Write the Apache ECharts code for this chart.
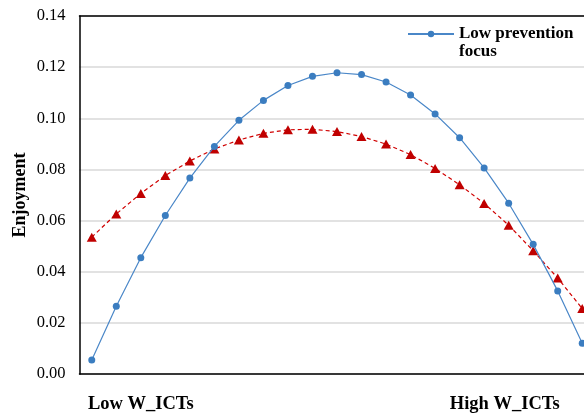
<!DOCTYPE html>
<html>
<head>
<meta charset="utf-8">
<script src="https://cdn.jsdelivr.net/npm/echarts@6/dist/echarts.min.js"></script>
<style>
  html, body { margin: 0; padding: 0; background: #fff; }
  #chart { width: 584px; height: 413px; }
</style>
</head>
<body>
<div id="chart"></div>
<script>
// 横轴刻度 (21 个点), 只在两处显示文字
const categories = ["", "", "Low W_ICTs", "", "", "", "", "", "", "", "", "", "", "", "", "", "", "High W_ICTs", "", "", ""]
const yTicks = [0, 0.02, 0.04, 0.06, 0.08, 0.10, 0.12, 0.14]

// 低预防聚焦 (蓝色实线)
const lowPrevention = [0.0055, 0.0265, 0.0455, 0.0620, 0.0766, 0.0890, 0.0992, 0.1070, 0.1128,
    0.1164, 0.1178, 0.1171, 0.1142, 0.1091, 0.1017, 0.0924, 0.0806, 0.0668, 0.0507, 0.0325, 0.0120]
// 红色虚线
const highPrevention = [0.0535, 0.0626, 0.0706, 0.0776, 0.0833, 0.0880, 0.0915, 0.0941, 0.0955,
    0.0957, 0.0948, 0.0929, 0.0899, 0.0858, 0.0804, 0.0740, 0.0667, 0.0582, 0.0482, 0.0375, 0.0256]

;(function () {
    let myChart = echarts.init(document.getElementById("chart"))
    const serif = "'Liberation Serif', 'Times New Roman', serif"
    let option = {
        animation: false,
        textStyle: { fontFamily: serif },
        grid: {
            left: 79.5,
            right: -10.5,
            top: 16,
            bottom: 39,
            containLabel: false,
            outerBoundsMode: "none"
        },
        legend: {
            data: ["Low prevention focus"],
            left: 407,
            top: 7,
            padding: 0,
            itemWidth: 46,
            itemHeight: 8,
            // 前面空一行, 让图标对齐第一行文字
            formatter: function () { return "\nLow prevention\nfocus" },
            textStyle: {
                fontFamily: serif,
                fontWeight: "bold",
                fontSize: 17,
                color: "#000",
                lineHeight: 18
            }
        },
        xAxis: [
            {
                type: "category",
                boundaryGap: true,
                data: categories.map(function (c, i) {
                    return i === 17 ? { value: c, textStyle: { padding: [0, 8, 0, 0] } } : c
                }),
                axisLine: { lineStyle: { color: "#000", width: 1.5 } },
                axisTick: { show: false },
                axisLabel: {
                    interval: 0,
                    margin: 21,
                    fontFamily: serif,
                    fontWeight: "bold",
                    fontSize: 18.5,
                    color: "#000"
                }
            },
            {
                // 顶部黑色边框
                type: "category",
                position: "top",
                data: categories,
                axisLine: { show: true, lineStyle: { color: "#000", width: 1.5 } },
                axisTick: { show: false },
                axisLabel: { show: false },
                splitLine: { show: false }
            }
        ],
        yAxis: {
            type: "value",
            min: yTicks[0],
            max: yTicks[yTicks.length - 1],
            interval: 0.02,
            name: "Enjoyment",
            nameLocation: "middle",
            nameGap: 50,
            nameMoveOverlap: false,
            nameTextStyle: {
                fontFamily: serif,
                fontWeight: "bold",
                fontSize: 18,
                color: "#000"
            },
            axisLine: { show: true, lineStyle: { color: "#000", width: 1.5 } },
            axisTick: { show: false },
            axisLabel: {
                margin: 14,
                fontFamily: serif,
                fontSize: 16.5,
                color: "#000",
                formatter: function (v) { return v.toFixed(2) }
            },
            splitLine: { lineStyle: { color: "#d9d9d9", width: 1.5 } }
        },
        series: [
            {
                name: "Low prevention focus",
                type: "line",
                data: lowPrevention,
                symbol: "circle",
                symbolSize: 7,
                color: "#3b7dc0",
                lineStyle: { width: 1.2, color: "#4a87c8" },
                itemStyle: { color: "#3b7dc0" },
                z: 3
            },
            {
                name: "High prevention focus",
                type: "line",
                data: highPrevention,
                symbol: "triangle",
                symbolSize: [10, 9],
                color: "#c00000",
                lineStyle: { width: 1.2, color: "#d00000", type: [4, 3] },
                itemStyle: { color: "#c00000" },
                z: 2
            }
        ]
    }
    myChart.setOption(option)
    window.addEventListener("resize", function () {
        myChart.resize()
    })
})()
</script>
</body>
</html>
